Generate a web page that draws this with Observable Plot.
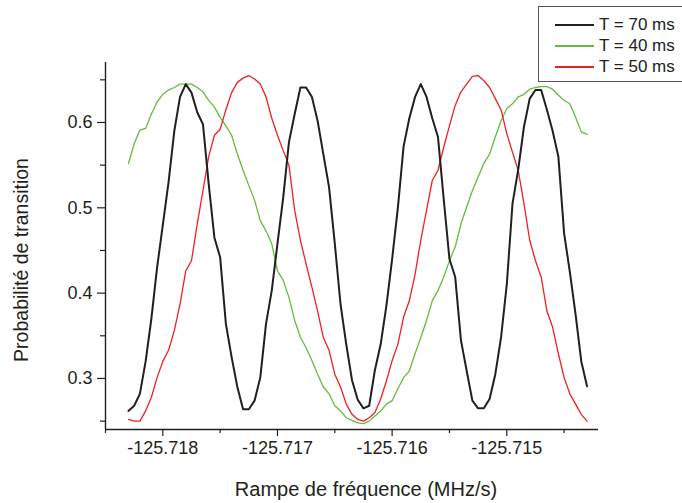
<!DOCTYPE html>
<html>
<head>
<meta charset="utf-8">
<script src="https://cdn.jsdelivr.net/npm/d3@7"></script>
<script src="https://cdn.jsdelivr.net/npm/@observablehq/plot@0.6"></script>
<style>
  html, body { margin: 0; padding: 0; background: #fff; }
  #wrap { position: relative; width: 682px; height: 503px; overflow: hidden; font-family: "Liberation Sans", Arial, sans-serif; }
  #legend { position: absolute; left: 538px; top: 6px; width: 150px; height: 76px; border: 1.3px solid #555; background: #fff; box-sizing: border-box; }
  .row { position: absolute; left: 0; height: 20px; display: flex; align-items: center; font-size: 17px; color: #222; }
  .sw { display: inline-block; width: 39px; margin-left: 16px; margin-right: 5px; }
</style>
</head>
<body>
<div id="wrap"></div>
<script>
// frequency ramp grid (MHz/s): start and step of the scan
const xStart = -125.7183;
const xStep = 0.00005;

const seriesNames = ["T = 70 ms", "T = 40 ms", "T = 50 ms"];
const seriesColors = ["#231f20", "#66bb3c", "#ee2024"];

const t70 = [0.262,0.268,0.282,0.32,0.37,0.43,0.48,0.53,0.59,0.63,
  0.645,0.635,0.612,0.598,0.528,0.465,0.442,0.364,0.325,0.290,
  0.264,0.264,0.274,0.301,0.364,0.403,0.458,0.512,0.577,0.610,
  0.641,0.641,0.630,0.602,0.563,0.524,0.458,0.387,0.340,0.298,
  0.275,0.265,0.268,0.31,0.34,0.385,0.44,0.50,0.572,0.605,
  0.63,0.645,0.63,0.605,0.583,0.51,0.44,0.419,0.345,0.309,
  0.274,0.265,0.265,0.276,0.305,0.348,0.41,0.505,0.545,0.595,
  0.628,0.638,0.638,0.615,0.59,0.56,0.47,0.425,0.375,0.32,0.291];

const t40 = [0.552,0.575,0.591,0.593,0.61,0.624,0.633,0.638,0.641,0.645,
  0.645,0.645,0.641,0.636,0.626,0.618,0.606,0.596,0.585,0.563,
  0.544,0.526,0.509,0.485,0.473,0.458,0.426,0.415,0.395,0.368,
  0.348,0.336,0.321,0.305,0.29,0.282,0.268,0.262,0.254,0.251,
  0.248,0.247,0.25,0.256,0.262,0.27,0.274,0.288,0.301,0.309,
  0.329,0.348,0.368,0.391,0.403,0.419,0.438,0.454,0.481,0.501,
  0.52,0.536,0.552,0.563,0.583,0.602,0.616,0.622,0.63,0.633,
  0.639,0.641,0.642,0.642,0.639,0.632,0.626,0.622,0.606,0.589,0.586];

const t50 = [0.252,0.250,0.250,0.262,0.278,0.301,0.32,0.333,0.356,0.387,
  0.426,0.438,0.481,0.52,0.56,0.585,0.592,0.615,0.635,0.647,
  0.652,0.655,0.651,0.645,0.63,0.605,0.585,0.567,0.55,0.497,
  0.462,0.434,0.407,0.379,0.348,0.333,0.305,0.29,0.27,0.258,
  0.252,0.250,0.254,0.26,0.276,0.297,0.321,0.34,0.372,0.391,
  0.422,0.462,0.497,0.532,0.544,0.571,0.596,0.62,0.636,0.645,
  0.654,0.655,0.649,0.641,0.628,0.615,0.587,0.565,0.544,0.505,
  0.462,0.438,0.419,0.379,0.36,0.329,0.301,0.282,0.27,0.258,0.25];

const xMajorTicks = [-125.718, -125.717, -125.716, -125.715];
const xMinorTicks = [-125.7185, -125.7175, -125.7165, -125.7155, -125.7145];
const yMajorTicks = [0.3, 0.4, 0.5, 0.6];
const yMinorTicks = [0.25, 0.35, 0.45, 0.55, 0.65];
const xDomain = [-125.7185, -125.7142];
const yDomain = [0.2402, 0.6703];

const toRows = (vals) => vals.map((v, i) => ({x: xStart + i * xStep, y: v}));

const ink = "#231f20";
const chart = Plot.plot({
  width: 682,
  height: 503,
  marginLeft: 105,
  marginRight: 84,
  marginTop: 62,
  marginBottom: 74,
  style: {fontFamily: "'Liberation Sans', Arial, sans-serif", fontSize: "18px", color: ink, background: "#fff"},
  x: {domain: xDomain},
  y: {domain: yDomain},
  marks: [
    Plot.line(toRows(t40), {x: "x", y: "y", stroke: seriesColors[1], strokeWidth: 1.3}),
    Plot.line(toRows(t50), {x: "x", y: "y", stroke: seriesColors[2], strokeWidth: 1.3}),
    Plot.line(toRows(t70), {x: "x", y: "y", stroke: seriesColors[0], strokeWidth: 2}),
    Plot.axisX(xMajorTicks, {tickSize: 7, tickPadding: 5, tickFormat: d => d.toFixed(3), stroke: ink, strokeWidth: 1.2, fontSize: 18, label: null}),
    Plot.axisX(xMinorTicks, {tickSize: 4, tickFormat: () => "", stroke: ink, strokeWidth: 1.2, label: null}),
    Plot.axisY(yMajorTicks, {tickSize: 8, tickPadding: 5, tickFormat: d => d.toFixed(1), stroke: ink, strokeWidth: 1.2, fontSize: 18, label: null}),
    Plot.axisY(yMinorTicks, {tickSize: 5, tickFormat: () => "", stroke: ink, strokeWidth: 1.2, label: null}),
    Plot.ruleY([yDomain[0]], {stroke: ink, strokeWidth: 1.4}),
    Plot.ruleX([xDomain[0]], {stroke: ink, strokeWidth: 1.4}),
    Plot.text(["Rampe de fréquence (MHz/s)"], {frameAnchor: "bottom", dy: 66, dx: 14, fontSize: 20, fill: ink}),
    Plot.text(["Probabilité de transition"], {frameAnchor: "left", textAnchor: "middle", dx: -84, dy: 14, rotate: -90, fontSize: 19.5, fill: ink})
  ]
});

const wrap = document.getElementById("wrap");
wrap.appendChild(chart);

const legend = document.createElement("div");
legend.id = "legend";
const tops = [8, 29, 50];
seriesNames.forEach((name, i) => {
  const row = document.createElement("div");
  row.className = "row";
  row.style.top = tops[i] + "px";
  const sw = document.createElement("span");
  sw.className = "sw";
  sw.style.height = (i === 0 ? 2 : 1.6) + "px";
  sw.style.background = seriesColors[i];
  row.appendChild(sw);
  const t = document.createElement("span");
  t.textContent = name;
  row.appendChild(t);
  legend.appendChild(row);
});
wrap.appendChild(legend);
</script>
</body>
</html>
